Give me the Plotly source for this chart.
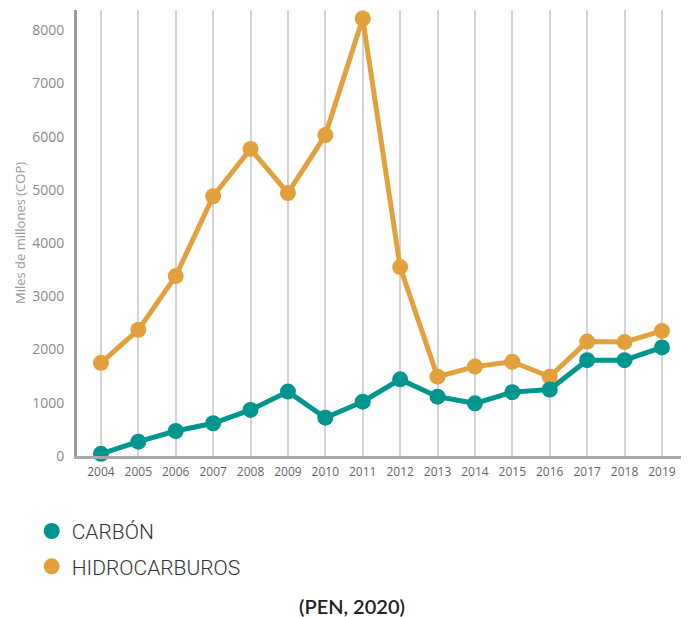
import plotly.graph_objects as go

years = [str(y) for y in range(2004, 2020)]
carbon = [40, 270, 470, 615, 865, 1210, 720, 1020, 1440, 1115, 990, 1200, 1250, 1800, 1800, 2040]
hidro = [1750, 2370, 3380, 4880, 5770, 4940, 6030, 8220, 3550, 1490, 1680, 1770, 1490, 2150, 2140, 2350]
y_ticks = [0, 1000, 2000, 3000, 4000, 5000, 6000, 7000, 8000]

TEAL = "#00968f"
ORANGE = "#e2a13c"

fig = go.Figure()
fig.add_trace(go.Scatter(x=years, y=hidro, mode="lines+markers", name="HIDROCARBUROS",
                         line=dict(color=ORANGE, width=5), marker=dict(size=16, color=ORANGE),
                         cliponaxis=False, showlegend=False))
fig.add_trace(go.Scatter(x=years, y=carbon, mode="lines+markers", name="CARBÓN",
                         line=dict(color=TEAL, width=5), marker=dict(size=16, color=TEAL),
                         cliponaxis=False, showlegend=False))
# legend-only entries (marker only)
fig.add_trace(go.Scatter(x=[None], y=[None], mode="markers", name="CARBÓN",
                         legendgroup="a", marker=dict(size=16, color=TEAL)))
fig.add_trace(go.Scatter(x=[None], y=[None], mode="markers", name="HIDROCARBUROS",
                         legendgroup="b", marker=dict(size=16, color=ORANGE)))

fig.update_layout(
    width=696, height=617,
    margin=dict(l=77, r=15, t=10, b=161),
    paper_bgcolor="white", plot_bgcolor="white",
    font=dict(family="Open Sans", color="#888"),
    xaxis=dict(
        type="category", range=[-0.64, 15.51],
        showgrid=True, gridcolor="#d3d3d3", gridwidth=1.5,
        showline=True, linecolor="#a8a8a8", linewidth=3,
        ticks="", tickfont=dict(size=12, color="#666"), ticklabelstandoff=3,
        zeroline=False,
    ),
    yaxis=dict(
        range=[0, 8380], tickvals=y_ticks,
        showgrid=False, zeroline=False,
        showline=True, linecolor="#9a9a9a", linewidth=3,
        ticks="", tickfont=dict(size=14, color="#8a8a8a"), ticklabelstandoff=7,
        title=dict(text="Miles de millones (COP)", font=dict(size=13, color="#9a9a9a"), standoff=4),
        automargin=False,
    ),
    legend=dict(
        x=-0.075, y=-0.123, xanchor="left", yanchor="top",
        font=dict(family="Roboto", size=21, color="#333", weight=300),
        itemsizing="trace", traceorder="grouped", tracegroupgap=5,
        bgcolor="rgba(0,0,0,0)",
    ),
    annotations=[dict(
        text="(PEN, 2020)", xref="paper", yref="paper", x=0.455, y=-0.337,
        xanchor="center", yanchor="middle", showarrow=False,
        font=dict(family="Lato", size=20, color="#222", weight=600),
    )],
)

fig.write_html("out.html")
